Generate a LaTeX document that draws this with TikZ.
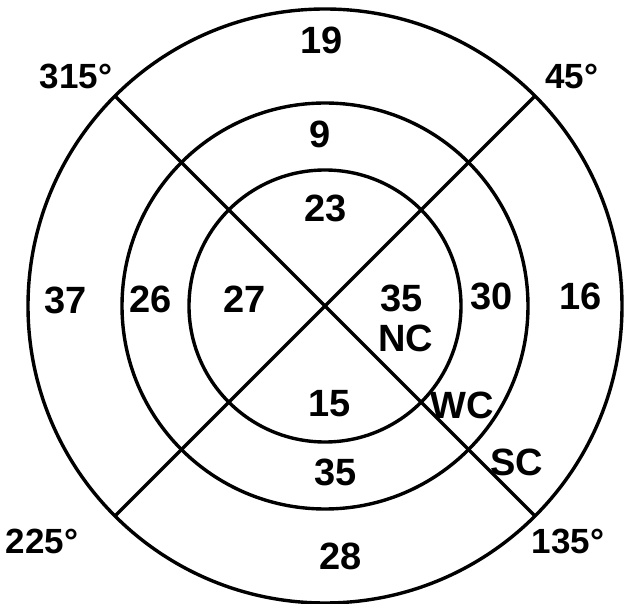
\documentclass[tikz,border=0pt]{standalone}
\usepackage{fontspec}
\setmainfont{Liberation Sans}
\begin{document}
\begin{tikzpicture}[x=1pt,y=-1pt,
  ring/.style={circle,draw,line width=3.4pt,inner sep=0pt,outer sep=0pt},
  ray/.style={line width=3.2pt},
  lbl/.style={font=\fontsize{38}{38}\selectfont\bfseries,inner sep=0pt},
  ang/.style={font=\fontsize{35}{35}\selectfont\bfseries,inner sep=0pt}]
\useasboundingbox (0,0) rectangle (630,604);
\coordinate (c) at (325,306);
\node[ring,minimum size=594pt] (outer) at (c) {};
\node[ring,minimum size=406pt] (mid) at (c) {};
\node[ring,minimum size=272pt] (inner) at (c) {};
\draw[ray] (outer.135) -- (outer.-45);
\draw[ray] (outer.45) -- (outer.-135);
\node[lbl] (t19) at (322,40) {19};
\node[lbl] (t9) at (320,134) {9};
\node[lbl] (t23) at (326,208) {23};
\node[lbl] (t37) at (66,300) {37};
\node[lbl] (t26) at (151,299) {26};
\node[lbl] (t27) at (245,299) {27};
\node[lbl] (t35a) at (402,298) {35};
\node[lbl] (tNC) at (406,338) {NC};
\node[lbl] (t30) at (492,296) {30};
\node[lbl] (t16) at (581,296) {16};
\node[lbl] (t15) at (330,404) {15};
\node[lbl] (tWC) at (462,405) {WC};
\node[lbl] (t35b) at (336,472) {35};
\node[lbl] (tSC) at (517,462) {SC};
\node[lbl] (t28) at (341,556) {28};
\node[ang] (a315) at (76,76) {315°};
\node[ang] (a45) at (572,76) {45°};
\node[ang] (a225) at (42,541) {225°};
\node[ang] (a135) at (568,541) {135°};
\end{tikzpicture}
\end{document}
